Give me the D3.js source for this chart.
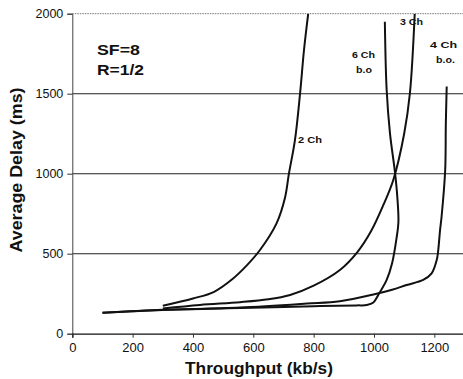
<!DOCTYPE html>
<html><head><meta charset="utf-8">
<script src="https://cdn.jsdelivr.net/npm/d3@7"></script>
<style>
html,body{margin:0;padding:0;background:#fff;}
svg{display:block;font-family:"Liberation Sans",Arial,sans-serif;}
</style></head>
<body>
<svg id="c" width="463" height="379"></svg>
<script>
// ---- data ----
const xTicks = [0, 200, 400, 600, 800, 1000, 1200];
const yTicks = [0, 500, 1000, 1500, 2000];

const ch2X = [300, 400, 470, 530, 580, 622, 677, 705, 718, 738, 755, 768, 782];
const ch2Y = [175, 220, 262, 340, 430, 523, 690, 850, 1000, 1210, 1502, 1773, 2000];

const ch3X = [300, 423, 556, 650, 722, 800, 887, 945, 990, 1030, 1064, 1100, 1119, 1135];
const ch3Y = [158, 180, 197, 215, 242, 300, 398, 510, 640, 800, 961, 1250, 1502, 2000];

const ch4X = [100, 300, 556, 777, 887, 998, 1060, 1108, 1163, 1191, 1208, 1213, 1219, 1224, 1236, 1238, 1241];
const ch4Y = [131, 148, 163, 188, 203, 245, 275, 304, 336, 377, 461, 523, 648, 731, 1023, 1300, 1545];

const ch6X = [100, 300, 556, 800, 943, 976, 998, 1015, 1042, 1060, 1075, 1081, 1078, 1070, 1053, 1042, 1036];
const ch6Y = [131, 150, 160, 172, 177, 179, 195, 245, 336, 440, 600, 700, 836, 1002, 1252, 1523, 1950];

const seriesNames = ["2 Ch", "3 Ch", "4 Ch", "6 Ch"];

// ---- chart ----
const svg = d3.select("#c");
const x = d3.scaleLinear().domain([0, 1300]).range([72.3, 464.5]);
const y = d3.scaleLinear().domain([0, 2000]).range([333.7, 13.7]);
const ink = "#111";

// top dotted border
svg.append("line").attr("x1", x(0)).attr("x2", 463).attr("y1", y(2000)).attr("y2", y(2000))
  .attr("stroke", "#777").attr("stroke-width", 1).attr("stroke-dasharray", "1.5,1");

// grid lines
svg.append("g").selectAll("line").data(yTicks.filter(d => d > 0 && d < 2000)).join("line")
  .attr("x1", x(0)).attr("x2", 463).attr("y1", d => y(d)).attr("y2", d => y(d))
  .attr("stroke", "#222").attr("stroke-width", 1.1);

// y axis
const yAxis = d3.axisLeft(y).tickValues(yTicks).tickSize(5).tickPadding(4).tickFormat(d3.format("d"));
const gy = svg.append("g").attr("transform", `translate(${x(0)},0)`).call(yAxis);
gy.select(".domain").attr("stroke", "#444").attr("stroke-width", 1);
gy.selectAll(".tick line").attr("stroke", "#333");
gy.selectAll("text").attr("font-size", 12.5).attr("fill", ink).attr("font-family", "Liberation Sans, Arial, sans-serif");

// x axis
const xAxis = d3.axisBottom(x).tickValues(xTicks).tickSize(4).tickPadding(5).tickFormat(d3.format("d"));
const gx = svg.append("g").attr("transform", `translate(0,${y(0)})`).call(xAxis);
gx.select(".domain").attr("stroke", "#111").attr("stroke-width", 1.3);
gx.selectAll(".tick line").attr("stroke", "#333");
gx.selectAll("text").attr("font-size", 13).attr("fill", ink).attr("font-family", "Liberation Sans, Arial, sans-serif");

// curves
const line = d3.line().x(d => x(d[0])).y(d => y(d[1])).curve(d3.curveCatmullRom.alpha(0.5));
const series = [[ch2X, ch2Y], [ch3X, ch3Y], [ch4X, ch4Y], [ch6X, ch6Y]];
svg.append("clipPath").attr("id", "pc").append("rect")
  .attr("x", x(0)).attr("y", y(2000)).attr("width", 463 - x(0)).attr("height", y(0) - y(2000));
svg.append("g").attr("clip-path", "url(#pc)").selectAll("path").data(series).join("path")
  .attr("d", s => line(s[0].map((v, i) => [v, s[1][i]])))
  .attr("fill", "none").attr("stroke", ink).attr("stroke-width", 2).attr("stroke-linejoin", "round");

// axis titles
svg.append("text").attr("x", 259).attr("y", 374).attr("text-anchor", "middle")
  .attr("font-size", 17).attr("font-weight", "bold").attr("fill", ink)
  .attr("textLength", 148).attr("lengthAdjust", "spacingAndGlyphs")
  .text("Throughput (kb/s)");
svg.append("text").attr("transform", "translate(22,170) rotate(-90)").attr("text-anchor", "middle")
  .attr("font-size", 17).attr("font-weight", "bold").attr("fill", ink)
  .attr("textLength", 165).attr("lengthAdjust", "spacingAndGlyphs")
  .text("Average Delay (ms)");

// annotations
const notes = [
  {t: "SF=8", x: 97, y: 55, s: 15, w: 43, a: "start"},
  {t: "R=1/2", x: 97, y: 75, s: 15, w: 47, a: "start"},
  {t: seriesNames[0], x: 298, y: 143, s: 9.5, w: 24, a: "start"},
  {t: seriesNames[3], x: 352, y: 58, s: 9.5, w: 23, a: "start"},
  {t: "b.o", x: 356, y: 73, s: 9.5, w: 16, a: "start"},
  {t: seriesNames[1], x: 400, y: 25, s: 9.5, w: 23, a: "start"},
  {t: seriesNames[2], x: 430, y: 48, s: 9.5, w: 27, a: "start"},
  {t: "b.o.", x: 436, y: 63, s: 9.5, w: 19, a: "start"}
];
svg.append("g").selectAll("text").data(notes).join("text")
  .attr("x", d => d.x).attr("y", d => d.y).attr("font-size", d => d.s)
  .attr("font-weight", "bold").attr("fill", ink).attr("text-anchor", d => d.a)
  .attr("textLength", d => d.w).attr("lengthAdjust", "spacingAndGlyphs")
  .text(d => d.t);
</script>
</body></html>
